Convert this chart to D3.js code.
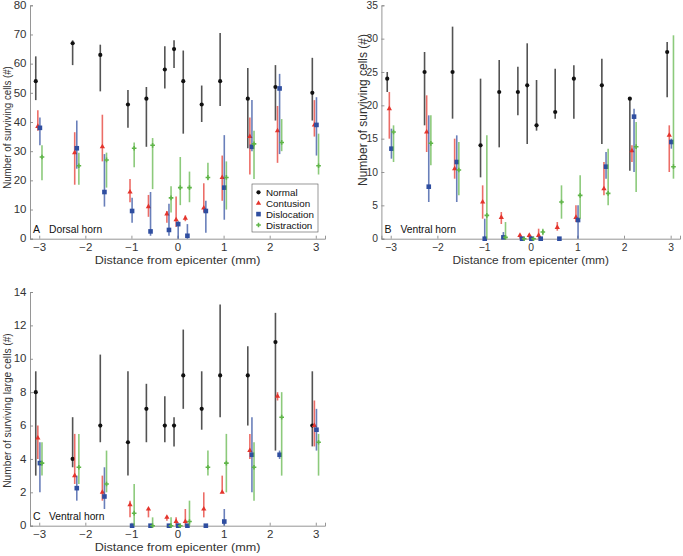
<!DOCTYPE html>
<html><head><meta charset="utf-8">
<script src="https://cdn.jsdelivr.net/npm/d3@7"></script>
<style>
body{margin:0;background:#fff;}
svg{display:block;font-family:"Liberation Sans",Arial,Helvetica,sans-serif;}
</style></head>
<body><svg id="chart" width="683" height="556"></svg>
<script>
const distances = [-3,-2.2,-1.6,-1,-0.6,-0.2,0,0.2,0.6,1,1.6,2.2,3];
const seriesNames = ["Normal","Contusion","Dislocation","Distraction"];
const xTicks = [-3,-2,-1,0,1,2,3];

// Panel A: Dorsal horn
const aNormal      = [54,67,63,46,48,58,65,54,46,54,48,52,50];
const aNormalLo    = [47.5,59.5,50.5,38,31.5,51.5,58.5,36,40,45.5,31,40.5,40.5];
const aNormalHi    = [62.5,68,66.5,51,52,66,68,64.5,52.5,70.5,58.5,59.5,62];
const aContusion   = [38.5,29.5,31.5,16,11,8.5,6.5,7,10.5,21,35,37,39];
const aContusionLo = [37,18.5,26.5,12.5,7.5,5.5,4,6,9,13,22,26,35];
const aContusionHi = [44,36.5,42.5,20.5,15,9.5,14.5,8,19,28.5,41.5,45.5,47.5];
const aDislocation   = [38,31,16,9.5,2.5,3,5,1,9.5,17.5,31.5,51.5,39];
const aDislocationLo = [32,24,11,5.5,1,1,0,0,2,6.5,30,29,28.5];
const aDislocationHi = [41.5,40.5,29,14,16,12,6,5,13,35.5,47.5,56.5,48.5];
const aDistraction   = [28,25,27,31,32,14,17.5,17.5,21,21,32.5,33,25];
const aDistractionLo = [20,18.5,17.5,24.5,17,9,11.5,12.5,20,10,20.5,30,22];
const aDistractionHi = [32,29.5,29.5,33,34.5,18,28,23,26,26.5,37,41,36];
const aYTicks = [0,10,20,30,40,50,60,70,80];

// Panel B: Ventral horn
const bNormal      = [24,25,25,14,22,22,23,17,19,24,23,21,28];
const bNormalLo    = [22,17,18,9.2,13.7,18.5,14.2,16.2,18,18,14.2,10.2,21.2];
const bNormalHi    = [25,28,31.8,24,26.8,25.8,29.3,23.8,25.5,26,27,21,29.5];
const bContusion   = [19.5,16,10.5,5.5,3.2,0.5,0.5,0.5,1.7,3.2,7.5,13.2,15.5];
const bContusionLo = [15,13,9,3,2.2,0,0,0,1.2,2.5,6.5,11.5,10];
const bContusionHi = [22,21.5,15,8,4,0.7,0.7,1.5,2.5,5,11.5,14,17];
const bDislocation   = [13.5,7.8,11.5,0,0.2,0,0,0,0,2.8,10.8,18.3,14.5];
const bDislocationLo = [12,5.5,5.5,0,0,0,0,0,0,0,9,10,13.5];
const bDislocationHi = [16.5,18.5,15.5,3,1,0.2,0,0,0,5,13,19.5,15];
const bDistraction   = [16,14.3,10.3,3.5,0.2,0,0,1,5.5,6.5,6.8,13.8,10.8];
const bDistractionLo = [11.5,11,6.5,0,0,0,0,0.5,3,3,5,7,9];
const bDistractionHi = [17,18.5,14.5,15.5,2.5,0.2,0,1.5,8,9.5,13.5,17.5,30.5];
const bYTicks = [0,5,10,15,20,25,30,35];

// Panel C: Ventral horn, large cells
const cNormal      = [8,4,6,5,7,6,6,9,7,9,9,11,6];
const cNormalLo    = [3,3.5,5,3,5,5,4.75,7,5.75,6.5,6,4.5,4.75];
const cNormalHi    = [9.25,6.5,10.25,9.25,8.5,7.75,6.5,11.75,9.25,13.25,10.75,12.75,9.25];
const cContusion   = [5.25,3,2,1.25,1,0.5,0.25,0.25,1,2,4.5,7.75,6];
const cContusionLo = [4,2.5,1.5,0.5,0.5,0.3,0,0,0.5,2,4,7.5,4.75];
const cContusionHi = [6,5.5,3,1.5,1,0.5,0.5,1,2,3,5.5,8,7.5];
const cDislocation   = [3.75,2.25,1.75,0,0,0,0,0,0,0.25,4.25,4.25,5.75];
const cDislocationLo = [2,1.5,1,0,0,0,0,0,0,0,2,4,4.5];
const cDislocationHi = [5,3,3.5,0,0,0,0,0,0,1,6.5,4.5,7];
const cDistraction   = [3.75,3.5,2.5,0.75,0,0,0,0.25,3.5,3.75,3.5,6.5,5];
const cDistractionLo = [3,2.5,2,0,0,0,0,0,3,2,1.5,3,3];
const cDistractionHi = [5,5.5,4.5,2.5,0.5,0.5,0,1.5,4.5,5.5,5,8,5.5];
const cYTicks = [0,2,4,6,8,10,12,14];

const colors = ["#111111","#e4342c","#2f4ea0","#5fb548"];
const offsets = [-0.075,-0.03,0.015,0.06];
const svg = d3.select("#chart");
const textCol = "#333333";
const axisCol = "#8a8a8a";

function panel(cfg){
  const g = svg.append("g");
  const x = d3.scaleLinear().domain([-3.2,3.2]).range([cfg.left,cfg.right]);
  const y = d3.scaleLinear().domain([0,cfg.ymax]).range([cfg.bottom,cfg.top]);
  const xa = g.append("g").attr("transform",`translate(0,${cfg.bottom})`)
    .call(d3.axisBottom(x).tickValues(xTicks).tickSize(-3).tickPadding(5).tickFormat(d3.format("d")));
  const ya = g.append("g").attr("transform",`translate(${cfg.left},0)`)
    .call(d3.axisLeft(y).tickValues(cfg.yTicks).tickSize(-3).tickPadding(3.5).tickFormat(d3.format("d")));
  [xa,ya].forEach(a=>{
    a.select(".domain").attr("stroke",axisCol).attr("stroke-width",0.9);
    a.selectAll(".tick line").attr("stroke",axisCol).attr("stroke-width",0.9);
    a.selectAll("text").attr("fill",textCol).style("font-size",cfg.tickFs+"px");
  });
  xa.selectAll(".tick text").attr("transform",`scale(${cfg.tickSx},1)`);
  ya.selectAll(".tick text").each(function(){
    const t = d3.select(this); const x0 = +t.attr("x");
    t.attr("x",0).attr("transform",`translate(${x0},0) scale(${cfg.tickSx},1)`);
  });
  g.append("text").attr("transform",`translate(${(cfg.left+cfg.right)/2},${cfg.bottom+25}) scale(${cfg.xlabSx},1)`)
    .attr("text-anchor","middle").attr("fill",textCol).style("font-size",cfg.xlabFs+"px")
    .text("Distance from epicenter (mm)");
  g.append("text").attr("transform",`translate(${cfg.left-cfg.ylabOff},${cfg.ylabY}) scale(1.12,1) rotate(-90)`)
    .attr("text-anchor","middle").attr("fill",textCol).style("font-size",cfg.ylabFs+"px")
    .text(cfg.ylabel);
  g.append("text").attr("x",cfg.left+3).attr("y",cfg.bottom-6).attr("fill","#111").style("font-size","10.5px")
    .text(cfg.letter);
  g.append("text").attr("x",cfg.left+19).attr("y",cfg.bottom-6).attr("fill","#111").style("font-size","10.3px")
    .text(cfg.title);

  cfg.series.forEach((s,si)=>{
    const sg = g.append("g");
    const xs = distances.map(d=>x(d+offsets[si]));
    sg.selectAll("line.eb").data(s.v).join("line").attr("class","eb")
      .attr("x1",(d,i)=>xs[i]).attr("x2",(d,i)=>xs[i])
      .attr("y1",(d,i)=>y(s.lo[i])).attr("y2",(d,i)=>y(s.hi[i]))
      .attr("stroke",colors[si]).attr("stroke-width",1.6).attr("stroke-opacity",0.72);
    drawMarkers(sg, s.v.map((d,i)=>[xs[i],y(d)]), si);
  });
}

function drawMarkers(sg, pts, si){
  const c = colors[si];
  if(si===0){
    sg.selectAll("circle").data(pts).join("circle").attr("cx",d=>d[0]).attr("cy",d=>d[1]).attr("r",2.1).attr("fill",c);
  } else if(si===1){
    sg.selectAll("path.m").data(pts).join("path").attr("class","m")
      .attr("d",d3.symbol(d3.symbolTriangle,12)).attr("transform",d=>`translate(${d[0]},${d[1]})`).attr("fill",c);
  } else if(si===2){
    sg.selectAll("rect.m").data(pts).join("rect").attr("class","m")
      .attr("x",d=>d[0]-2.3).attr("y",d=>d[1]-2.3).attr("width",4.6).attr("height",4.6).attr("fill",c);
  } else {
    sg.selectAll("path.m").data(pts).join("path").attr("class","m")
      .attr("d",d3.symbol(d3.symbolCross,12)).attr("transform",d=>`translate(${d[0]},${d[1]})`).attr("fill",c);
  }
}

panel({left:30,right:325,top:5.3,bottom:238.7,ymax:80,yTicks:aYTicks,
  tickFs:10,tickSx:1.15,xlabFs:10.5,xlabSx:1.2,ylabFs:9.7,ylabOff:19.3,ylabY:127.5,
  ylabel:"Number of surviving cells (#)",letter:"A",title:"Dorsal horn",
  series:[{v:aNormal,lo:aNormalLo,hi:aNormalHi},{v:aContusion,lo:aContusionLo,hi:aContusionHi},
          {v:aDislocation,lo:aDislocationLo,hi:aDislocationHi},{v:aDistraction,lo:aDistractionLo,hi:aDistractionHi}]});
panel({left:381.4,right:680,top:5.3,bottom:238.7,ymax:35,yTicks:bYTicks,
  tickFs:10.3,tickSx:1.0,xlabFs:10.8,xlabSx:1.1,ylabFs:12,ylabOff:14.5,ylabY:110,
  ylabel:"Number of surviving cells (#)",letter:"B",title:"Ventral horn",
  series:[{v:bNormal,lo:bNormalLo,hi:bNormalHi},{v:bContusion,lo:bContusionLo,hi:bContusionHi},
          {v:bDislocation,lo:bDislocationLo,hi:bDislocationHi},{v:bDistraction,lo:bDistractionLo,hi:bDistractionHi}]});
panel({left:30,right:325,top:292,bottom:525.7,ymax:14,yTicks:cYTicks,
  tickFs:10,tickSx:1.15,xlabFs:10.5,xlabSx:1.2,ylabFs:10.2,ylabOff:19.3,ylabY:410.5,
  ylabel:"Number of surviving large cells (#)",letter:"C",title:"Ventral horn",
  series:[{v:cNormal,lo:cNormalLo,hi:cNormalHi},{v:cContusion,lo:cContusionLo,hi:cContusionHi},
          {v:cDislocation,lo:cDislocationLo,hi:cDislocationHi},{v:cDistraction,lo:cDistractionLo,hi:cDistractionHi}]});

// Legend in panel A
const lg = svg.append("g").attr("transform","translate(252,184)");
lg.append("rect").attr("width",66).attr("height",48).attr("fill","#fff").attr("stroke","#555").attr("stroke-width",0.6);
seriesNames.forEach((n,i)=>{
  const yy = 8.3+i*10.9;
  const mg = lg.append("g");
  drawMarkers(mg,[[6.5,yy]],i);
  lg.append("text").attr("x",14).attr("y",yy+3.5).attr("fill","#111").style("font-size","9.8px").text(n);
});
</script></body></html>
